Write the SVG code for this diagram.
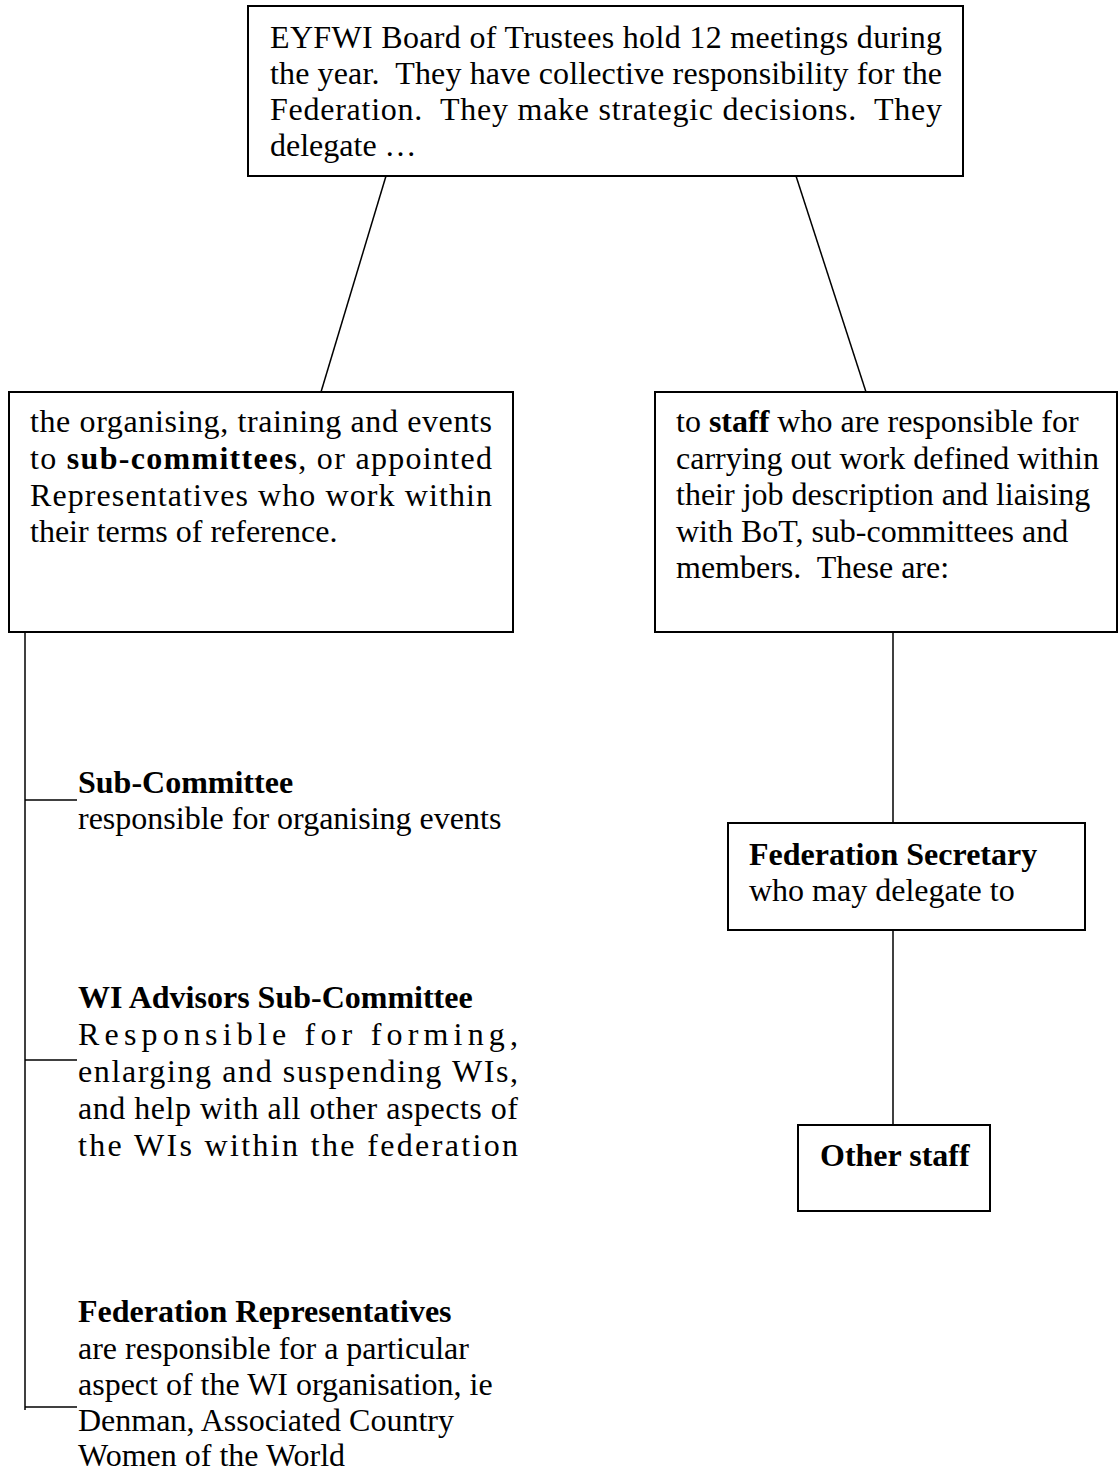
<svg xmlns="http://www.w3.org/2000/svg" width="1119" height="1473" viewBox="0 0 1119 1473">
<style>
text{font-family:"Liberation Serif","Times New Roman",serif;font-size:32px;fill:#000}
.b{font-weight:bold}
.box{fill:#fff;stroke:#000;stroke-width:2}
.ln{stroke:#000;stroke-width:1.5;fill:none}
</style>
<rect width="1119" height="1473" fill="#fff"/>
<g id="connectors">
<line class="ln" x1="386" y1="176" x2="321" y2="392"/>
<line class="ln" x1="796" y1="176" x2="866" y2="392"/>
<line class="ln" x1="25" y1="632" x2="25" y2="1410"/>
<line class="ln" x1="25" y1="800" x2="77" y2="800"/>
<line class="ln" x1="25" y1="1060" x2="77" y2="1060"/>
<line class="ln" x1="25" y1="1407" x2="77" y2="1407"/>
<line class="ln" x1="893" y1="632" x2="893" y2="823"/>
<line class="ln" x1="893" y1="930" x2="893" y2="1125"/>
</g>
<g id="board">
<rect class="box" x="248" y="6" width="715" height="170"/>
<text x="270" y="48" textLength="672" lengthAdjust="spacing">EYFWI Board of Trustees hold 12 meetings during</text>
<text x="270" y="84" textLength="672" lengthAdjust="spacing" xml:space="preserve">the year.  They have collective responsibility for the</text>
<text x="270" y="120" textLength="672" lengthAdjust="spacing" xml:space="preserve">Federation.  They make strategic decisions.  They</text>
<text x="270" y="156">delegate …</text>
</g>
<g id="subcommittees">
<rect class="box" x="9" y="392" width="504" height="240"/>
<text x="30" y="432" textLength="462" lengthAdjust="spacing">the organising, training and events</text>
<text x="30" y="469" textLength="462" lengthAdjust="spacing">to <tspan class="b">sub-committees</tspan>, or appointed</text>
<text x="30" y="506" textLength="462" lengthAdjust="spacing">Representatives who work within</text>
<text x="30" y="542">their terms of reference.</text>
</g>
<g id="staff">
<rect class="box" x="655" y="392" width="462" height="240"/>
<text x="676" y="432">to <tspan class="b">staff</tspan> who are responsible for</text>
<text x="676" y="469">carrying out work defined within</text>
<text x="676" y="505">their job description and liaising</text>
<text x="676" y="542">with BoT, sub-committees and</text>
<text x="676" y="578" xml:space="preserve">members.  These are:</text>
</g>
<g id="sub-committee">
<text class="b" x="78" y="793">Sub-Committee</text>
<text x="78" y="829">responsible for organising events</text>
</g>
<g id="wi-advisors">
<text class="b" x="78" y="1008">WI Advisors Sub-Committee</text>
<text x="78" y="1045" textLength="440" lengthAdjust="spacing">Responsible for forming,</text>
<text x="78" y="1082" textLength="440" lengthAdjust="spacing">enlarging and suspending WIs,</text>
<text x="78" y="1119" textLength="440" lengthAdjust="spacing">and help with all other aspects of</text>
<text x="78" y="1156" textLength="440" lengthAdjust="spacing">the WIs within the federation</text>
</g>
<g id="fed-reps">
<text class="b" x="78" y="1322">Federation Representatives</text>
<text x="78" y="1359">are responsible for a particular</text>
<text x="78" y="1395">aspect of the WI organisation, ie</text>
<text x="78" y="1431">Denman, Associated Country</text>
<text x="78" y="1466">Women of the World</text>
</g>
<g id="secretary">
<rect class="box" x="728" y="823" width="357" height="107"/>
<text class="b" x="749" y="865">Federation Secretary</text>
<text x="749" y="901">who may delegate to</text>
</g>
<g id="other-staff">
<rect class="box" x="798" y="1125" width="192" height="86"/>
<text class="b" x="820" y="1166">Other staff</text>
</g>
</svg>
